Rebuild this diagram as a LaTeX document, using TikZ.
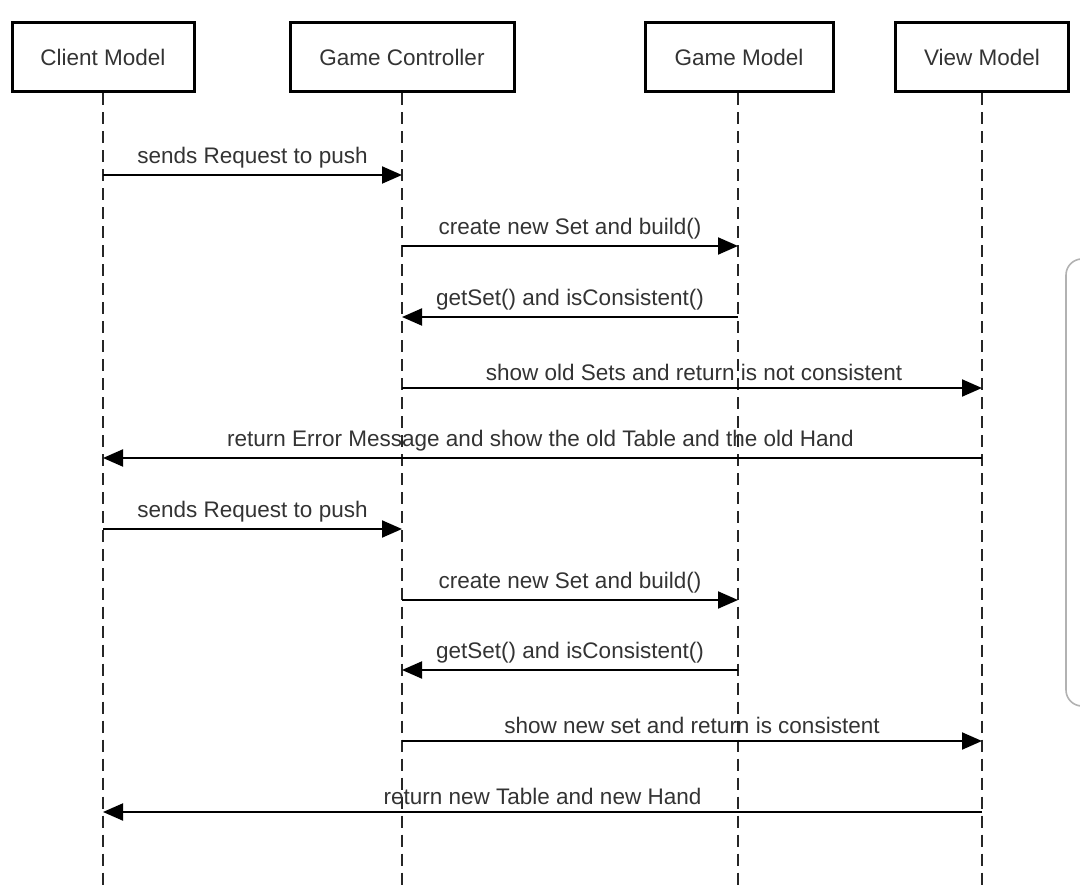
\documentclass[tikz,border=0pt]{standalone}
\usepackage{fontspec}
\setmainfont{Liberation Sans}
\usetikzlibrary{arrows.meta}
\definecolor{txt}{HTML}{333333}
\tikzset{
  hdr/.style={draw=black, line width=1.5pt, fill=white, minimum height=34.5pt, inner sep=0pt, text=txt, font=\fontsize{11.25pt}{13pt}\selectfont},
  life/.style={draw=black!85, line width=1pt, dash pattern=on 6pt off 3.5pt},
  msg/.style={draw=black, line width=1pt, -{Triangle[length=10pt,width=8.5pt]}},
  lbl/.style={above, inner sep=0pt, yshift=3pt, text=txt, font=\fontsize{11.25pt}{13pt}\selectfont},
  panel/.style={draw=gray!60, line width=0.8pt, rounded corners=8pt}
}
\begin{document}
\begin{tikzpicture}[x=0.5pt,y=-0.5pt]
\useasboundingbox (0,0) rectangle (1080,886);
% headers
\node[hdr, minimum width=91pt] (cm) at (103,57.5) {Client Model};
\node[hdr, minimum width=112pt] (gc) at (402,57.5) {Game Controller};
\node[hdr, minimum width=94pt] (gm) at (739,57.5) {Game Model};
\node[hdr, minimum width=86.5pt] (vm) at (982,57.5) {View Model};
% lifeline ends
\coordinate (cmE) at (103,886);
\coordinate (gcE) at (402,886);
\coordinate (gmE) at (738,886);
\coordinate (vmE) at (982,886);
\draw[life] (cm.south) -- (cmE);
\draw[life] (gc.south) -- (gcE);
\draw[life] (gm.south -| gmE) -- (gmE);
\draw[life] (vm.south) -- (vmE);
% message points
\foreach \i/\y in {1/175,2/246,3/317,4/388,5/458,6/529,7/600,8/670,9/741,10/812}{
  \coordinate (c\i) at (103,\y);
  \coordinate (g\i) at (402,\y);
  \coordinate (m\i) at (738,\y);
  \coordinate (v\i) at (982,\y);
}
\draw[msg] (c1) -- node[lbl] {sends Request to push} (g1);
\draw[msg] (g2) -- node[lbl] {create new Set and build()} (m2);
\draw[msg] (m3) -- node[lbl] {getSet() and isConsistent()} (g3);
\draw[msg] (g4) -- node[lbl, xshift=1pt] {show old Sets and return is not consistent} (v4);
\draw[msg] (v5) -- node[lbl, xshift=-1pt] {return Error Message and show the old Table and the old Hand} (c5);
\draw[msg] (c6) -- node[lbl] {sends Request to push} (g6);
\draw[msg] (g7) -- node[lbl] {create new Set and build()} (m7);
\draw[msg] (m8) -- node[lbl] {getSet() and isConsistent()} (g8);
\draw[msg] (g9) -- node[lbl] {show new set and return is consistent} (v9);
\draw[msg] (v10) -- node[lbl] {return new Table and new Hand} (c10);
% side panel
\draw[panel] (1066,259) rectangle (1110,706);
\end{tikzpicture}
\end{document}
